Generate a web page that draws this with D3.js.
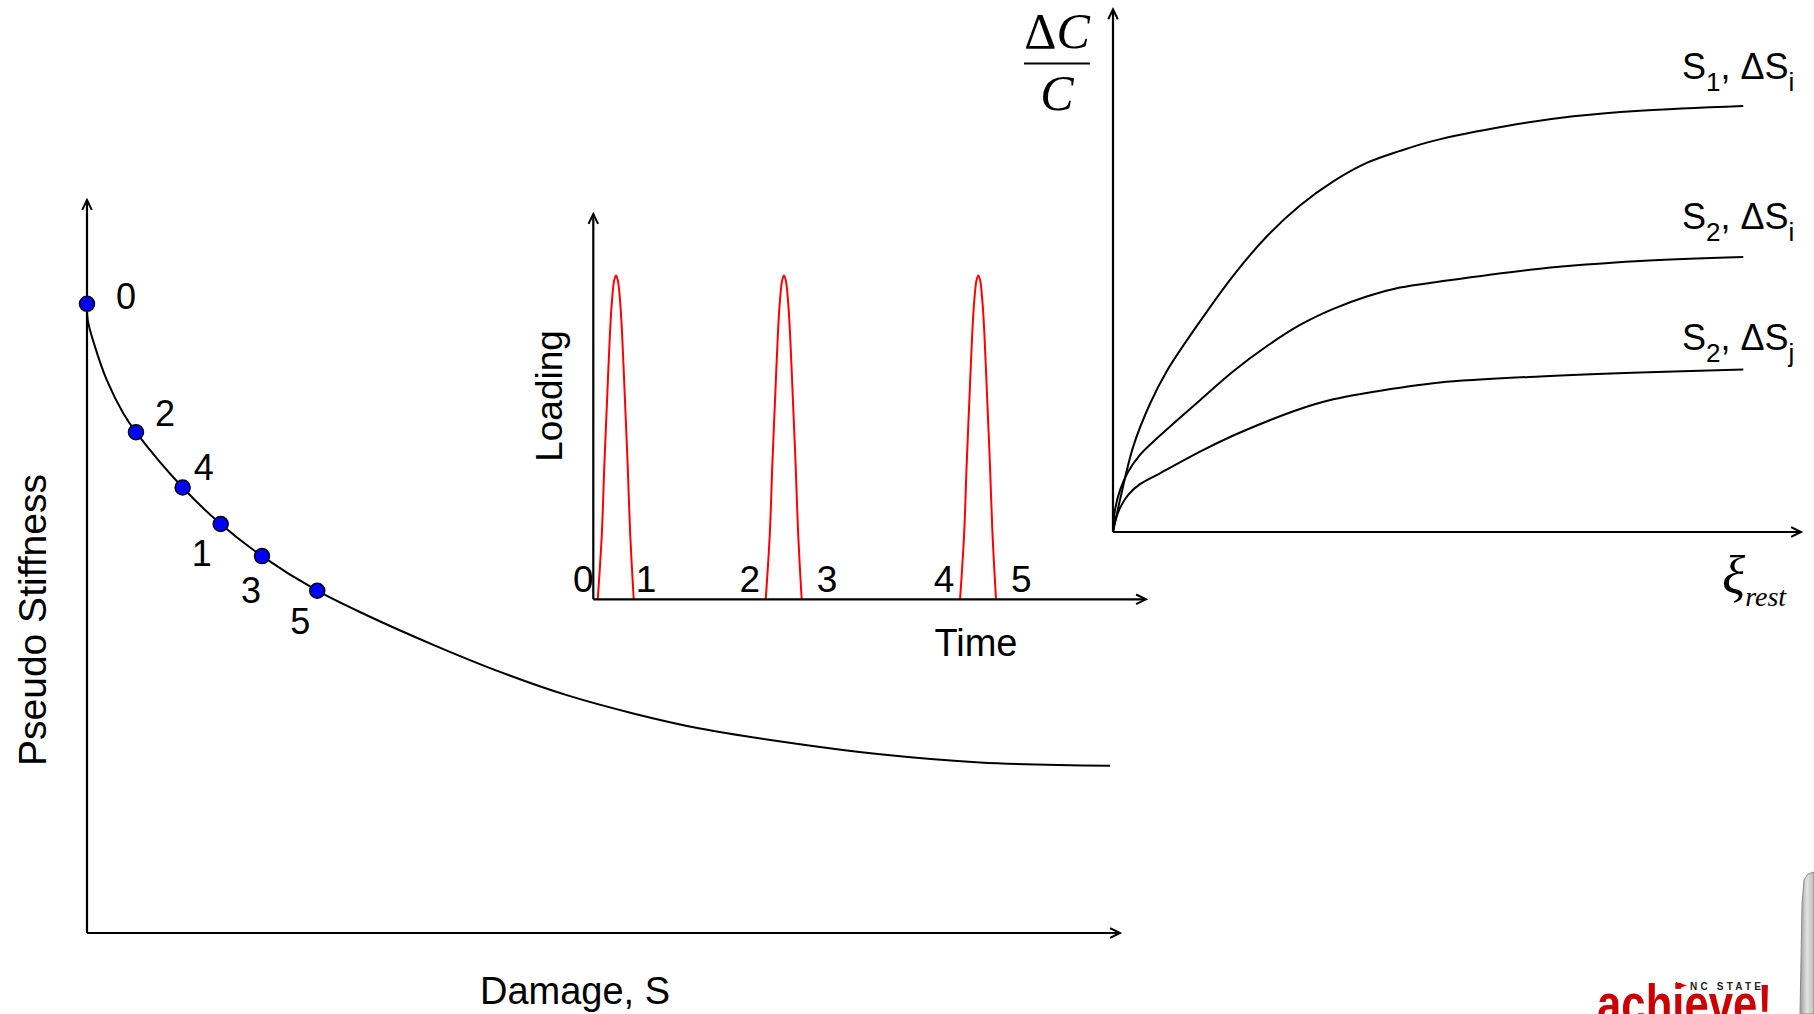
<!DOCTYPE html>
<html>
<head>
<meta charset="utf-8">
<script src="https://cdn.jsdelivr.net/npm/d3@7"></script>
<style>
  html, body { margin: 0; padding: 0; background: #fff; }
  svg { display: block; }
  .sans { font-family: "Liberation Sans", Arial, sans-serif; fill: #000; }
  .serif { font-family: "Liberation Serif", "Times New Roman", serif; fill: #000; }
</style>
</head>
<body>
<script>
// ---------- data ----------
// Pseudo stiffness C versus damage S (characteristic curve)
const damageS      = [0, 0.07, 0.77, 1.91, 3.51, 4.74, 9.26, 12.94, 16.94, 22.29, 27.08, 33.52, 39.98, 46.44, 52.88, 59.34, 69.02, 76.77, 86.45, 99.03];
const pseudoStiff  = [1.00, 0.974, 0.932, 0.879, 0.826, 0.796, 0.708, 0.650, 0.599, 0.544, 0.505, 0.458, 0.415, 0.378, 0.349, 0.325, 0.300, 0.284, 0.271, 0.266];

// Loading states marked on the curve
const stateLabels  = ["0", "2", "4", "1", "3", "5"];
const stateS       = [0, 4.74, 9.26, 12.94, 16.94, 22.29];
const stateC       = [1.00, 0.796, 0.708, 0.650, 0.599, 0.544];

// Loading pulses in time
const pulsePeakTimes   = [4.11, 34.50, 69.66];
const pulseOffsets     = [-3.3, -2.57, -2.12, -1.63, -1.10, -0.74, -0.33, 0, 0.33, 0.74, 1.10, 1.63, 2.12, 2.57, 3.2];
const pulseLoads       = [0, 0.20, 0.41, 0.61, 0.82, 0.92, 0.985, 1.0, 0.985, 0.92, 0.82, 0.61, 0.41, 0.20, 0];
const timeEventLabels  = ["0", "1", "2", "3", "4", "5"];
const timeEventTimes   = [-1.81, 9.53, 28.3, 42.28, 63.45, 77.44];

// Relative healing dC/C versus rest period
const restS1i  = [0, 1.02, 2.95, 5.38, 7.81, 12.65, 17.49, 22.34, 27.18, 32.02, 36.87, 41.72, 46.56, 57.22, 66.9, 76.6, 91.61];
const healS1i  = [0, 0.080, 0.213, 0.319, 0.400, 0.524, 0.638, 0.735, 0.812, 0.872, 0.918, 0.948, 0.973, 1.010, 1.034, 1.048, 1.060];
const restS2i  = [0, 0.29, 1.02, 2.18, 3.92, 6.83, 12.65, 17.49, 22.34, 27.18, 32.02, 36.87, 41.72, 47.53, 62.06, 76.6, 91.61];
const healS2i  = [0, 0.055, 0.104, 0.149, 0.192, 0.240, 0.328, 0.400, 0.462, 0.515, 0.555, 0.586, 0.608, 0.623, 0.655, 0.674, 0.684];
const restS2j  = [0, 0.29, 1.02, 2.18, 3.92, 6.83, 12.65, 17.49, 22.34, 27.18, 32.02, 36.87, 41.72, 47.53, 62.06, 76.6, 91.61];
const healS2j  = [0, 0.025, 0.060, 0.092, 0.119, 0.146, 0.200, 0.240, 0.275, 0.306, 0.330, 0.346, 0.359, 0.372, 0.387, 0.397, 0.404];
const healSeriesNames = [["S", "1", "i"], ["S", "2", "i"], ["S", "2", "j"]];

// ---------- layout ----------
const W = 1814, H = 1014;
const svg = d3.select("body").append("svg").attr("width", W).attr("height", H);
const smooth = d3.curveCatmullRom.alpha(0.5);

// open chevron arrow at the end of an axis line
function axisArrow(g, x1, y1, x2, y2) {
  g.append("line").attr("x1", x1).attr("y1", y1).attr("x2", x2).attr("y2", y2)
    .attr("stroke", "#000").attr("stroke-width", 2.2);
  const ang = Math.atan2(y2 - y1, x2 - x1), len = 11, spread = 0.45;
  const p = [
    [x2 - len * Math.cos(ang - spread), y2 - len * Math.sin(ang - spread)],
    [x2, y2],
    [x2 - len * Math.cos(ang + spread), y2 - len * Math.sin(ang + spread)]
  ];
  g.append("path").attr("d", d3.line()(p)).attr("fill", "none")
    .attr("stroke", "#000").attr("stroke-width", 2);
}

// ===== Panel 1: pseudo stiffness vs damage =====
const xS = d3.scaleLinear([0, 100], [87, 1120]);
const yC = d3.scaleLinear([0, 1.165], [933, 200]);
const p1 = svg.append("g");

axisArrow(p1, xS(0), yC(0), xS(0), yC(1.165));
axisArrow(p1, xS(0), yC(0), xS(100), yC(0));

p1.append("path")
  .attr("d", d3.line().x((d, i) => xS(damageS[i])).y(d => yC(d)).curve(smooth)(pseudoStiff))
  .attr("fill", "none").attr("stroke", "#000").attr("stroke-width", 2);

const stateLabelOffset = { "0": [39, 5], "2": [29, -6], "4": [21, -8], "1": [-19, 42], "3": [-11, 47], "5": [-17, 43] };
stateLabels.forEach((lab, i) => {
  p1.append("circle").attr("cx", xS(stateS[i])).attr("cy", yC(stateC[i])).attr("r", 7.5)
    .attr("fill", "#0000ff").attr("stroke", "#000").attr("stroke-width", 1.5);
  const o = stateLabelOffset[lab];
  p1.append("text").attr("class", "sans").attr("x", xS(stateS[i]) + o[0]).attr("y", yC(stateC[i]) + o[1])
    .attr("text-anchor", "middle").attr("font-size", 36).text(lab);
});

p1.append("text").attr("class", "sans").attr("font-size", 39).attr("text-anchor", "middle")
  .attr("transform", "translate(46,620) rotate(-90)").text("Pseudo Stiffness");
p1.append("text").attr("class", "sans").attr("font-size", 38).attr("text-anchor", "middle")
  .attr("x", 575).attr("y", 1004).text("Damage, S");

// ===== Panel 2: loading history =====
const xT = d3.scaleLinear([0, 100], [593.3, 1146]);
const yL = d3.scaleLinear([0, 1.19], [599.3, 214]);
const p2 = svg.append("g");

const pulseLine = d3.line().x(d => xT(d[0])).y(d => yL(d[1])).curve(smooth);
pulsePeakTimes.forEach(tp => {
  const pts = pulseOffsets.map((o, i) => [tp + o, pulseLoads[i]]);
  p2.append("path").attr("d", pulseLine(pts)).attr("fill", "none")
    .attr("stroke", "#ff0000").attr("stroke-width", 2);
});

axisArrow(p2, xT(0), yL(0), xT(0), yL(1.19));
axisArrow(p2, xT(0), yL(0), xT(100), yL(0));

timeEventLabels.forEach((lab, i) => {
  p2.append("text").attr("class", "sans").attr("x", xT(timeEventTimes[i])).attr("y", yL(0) - 7.6)
    .attr("text-anchor", "middle").attr("font-size", 37).text(lab);
});

p2.append("text").attr("class", "sans").attr("font-size", 37).attr("text-anchor", "middle")
  .attr("transform", "translate(562,396) rotate(-90)").text("Loading");
p2.append("text").attr("class", "sans").attr("font-size", 38).attr("text-anchor", "middle")
  .attr("x", 976).attr("y", 656).text("Time");

// ===== Panel 3: healing vs rest period =====
const xR = d3.scaleLinear([0, 100], [1113, 1801]);
const yR = d3.scaleLinear([0, 1.3], [532, 9.4]);
const p3 = svg.append("g");

axisArrow(p3, xR(0), yR(0), xR(0), yR(1.3));
axisArrow(p3, xR(0), yR(0), xR(100), yR(0));

const healLine = xs => d3.line().x((d, i) => xR(xs[i])).y(d => yR(d)).curve(smooth);
[[restS1i, healS1i], [restS2i, healS2i], [restS2j, healS2j]].forEach(([xs, ys]) => {
  p3.append("path").attr("d", healLine(xs)(ys)).attr("fill", "none")
    .attr("stroke", "#000").attr("stroke-width", 2);
});

const seriesBaselines = [78.5, 229, 350];
healSeriesNames.forEach((nm, i) => {
  const t = p3.append("text").attr("class", "sans").attr("x", 1682).attr("y", seriesBaselines[i])
    .attr("font-size", 36);
  t.append("tspan").text(nm[0]);
  t.append("tspan").attr("font-size", 26).attr("dy", 12).text(nm[1]);
  t.append("tspan").attr("dy", -12).text(", \u0394S");
  t.append("tspan").attr("font-size", 26).attr("dy", 12).text(nm[2]);
});

// y-axis title: fraction dC / C
const frac = p3.append("g");
const num = frac.append("text").attr("class", "serif").attr("x", 1057).attr("y", 48)
  .attr("text-anchor", "middle").attr("font-size", 50);
num.append("tspan").text("\u0394");
num.append("tspan").attr("font-style", "italic").text("C");
frac.append("line").attr("x1", 1024).attr("x2", 1090).attr("y1", 63.5).attr("y2", 63.5)
  .attr("stroke", "#000").attr("stroke-width", 2);
frac.append("text").attr("class", "serif").attr("x", 1057).attr("y", 110)
  .attr("text-anchor", "middle").attr("font-size", 50).attr("font-style", "italic").text("C");

// x-axis title: xi_rest
const xi = p3.append("text").attr("class", "serif").attr("x", 1722).attr("y", 594)
  .attr("font-size", 54).attr("font-style", "italic");
xi.append("tspan").text("\u03BE");
xi.append("tspan").attr("font-size", 28).attr("dy", 12).text("rest");

// ===== footer mark =====
const mark = svg.append("g");
mark.append("path")
  .attr("d", "M1676,982 L1687,985.5 L1676,989 Z").attr("fill", "#cc0000");
mark.append("text").attr("class", "sans").attr("x", 1690).attr("y", 989.5)
  .attr("font-size", 10).attr("font-weight", "bold").attr("letter-spacing", 3.2)
  .style("fill", "#222").text("NC STATE");
mark.append("text").attr("class", "sans").attr("x", 1597).attr("y", 1023)
  .attr("font-size", 56).attr("font-weight", "bold")
  .attr("textLength", 175).attr("lengthAdjust", "spacingAndGlyphs")
  .style("fill", "#cc0000").text("achieve!");
// tower at the edge
const towerGrad = svg.append("defs").append("linearGradient").attr("id", "tower")
  .attr("x1", "0").attr("x2", "1");
towerGrad.append("stop").attr("offset", "0").attr("stop-color", "#9a9a9a");
towerGrad.append("stop").attr("offset", "0.5").attr("stop-color", "#e2e2e2");
towerGrad.append("stop").attr("offset", "1").attr("stop-color", "#bdbdbd");
mark.append("path")
  .attr("d", "M1800,1014 L1802,905 L1804,880 L1808,874 L1814,872 L1814,1014 Z")
  .attr("fill", "url(#tower)").attr("stroke", "#8a8a8a").attr("stroke-width", 1);
</script>
</body>
</html>
